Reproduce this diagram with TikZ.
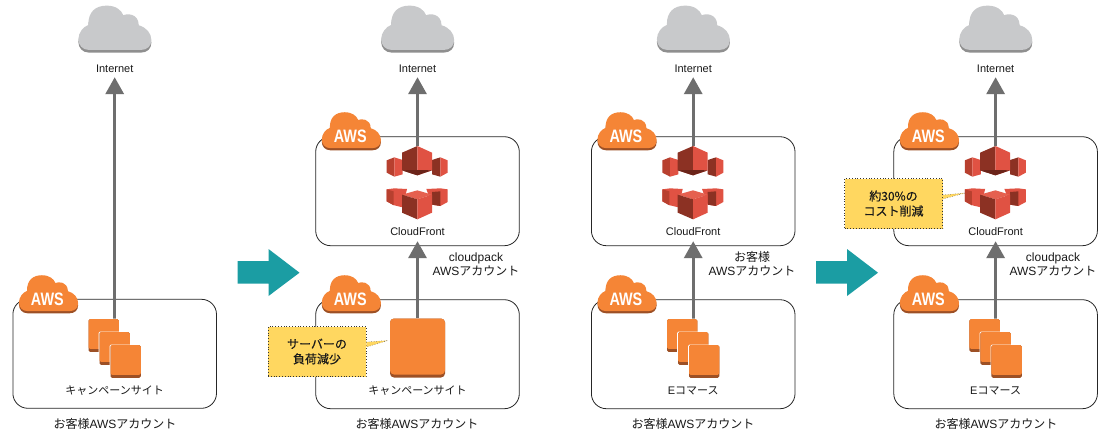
\documentclass[tikz,border=0pt]{standalone}
\usepackage{fontspec}
\setmainfont{Liberation Sans}
\newfontfamily\jp{Noto Sans CJK JP}
\newfontfamily\jpnote[FakeBold=0.4]{Noto Sans CJK JP}
\usetikzlibrary{arrows.meta}
\definecolor{awsorange}{HTML}{F58536}
\definecolor{awsdark}{HTML}{9D5025}
\definecolor{cloudgray}{HTML}{C8C9CB}
\definecolor{clouddark}{HTML}{8F8F8F}
\definecolor{cfred}{HTML}{E05243}
\definecolor{cfdark}{HTML}{8C3123}
\definecolor{cfmid}{HTML}{B8402F}
\definecolor{cflight}{HTML}{E5604F}
\definecolor{cfunder}{HTML}{6B2419}
\definecolor{connector}{HTML}{6E6E6E}
\definecolor{note}{HTML}{FFD760}
\definecolor{teal}{HTML}{1B9DA3}
\newcommand{\cloudoutline}{(265,150) .. controls (245,150) and (233,135) .. (233,118) .. controls (233,98) and (248,80) .. (263,75) .. controls (262,35) and (285,17) .. (318,17) .. controls (345,17) and (362,30) .. (368,46) .. controls (378,40) and (414,40) .. (414,76) .. controls (437,82) and (452,100) .. (452,120) .. controls (452,138) and (440,150) .. (420,150) -- cycle}
\tikzset{
  acct/.style={draw=black!85,line width=0.8pt,rounded corners=15pt,minimum width=203.6pt,minimum height=109pt,inner sep=0pt},
  txt/.style={inner sep=0pt,text=black!90,font=\fontsize{11}{14}\selectfont,align=center},
  bigtxt/.style={txt,font=\fontsize{12}{14}\selectfont},
  lbl/.style={txt,minimum height=16pt},
  cflbl/.style={txt,minimum height=18pt},
  ghost/.style={inner sep=0pt,minimum width=53pt},
  link/.style={draw=connector,line width=3.3pt,-{Triangle[width=18pt,length=17pt]}},
  notebox/.style={fill=note,draw=black!80,dotted,line width=0.8pt,minimum width=98pt,minimum height=50pt,inner sep=0pt,align=center,text=black!90,font=\fontsize{12}{15}\selectfont\jpnote},
  notetail/.style={fill=note,draw=black!70,dotted,line width=0.5pt},
  go/.style={fill=teal,draw=none},
  inetcloud/.pic={
    \begin{scope}[scale=0.3333,shift={(-342,-88)}]
      \fill[clouddark] [yshift=-8] \cloudoutline;
      \fill[cloudgray] \cloudoutline;
    \end{scope}},
  awscloud/.pic={
    \begin{scope}[scale=0.27,shift={(-342,-88)}]
      \fill[awsdark] [yshift=-8] \cloudoutline;
      \fill[awsorange] \cloudoutline;
    \end{scope}
    \node[inner sep=0pt,text=white,font=\fontsize{18}{18}\selectfont\bfseries,xscale=0.8] (-t) at (-1,5) {AWS};},
  tile/.pic={
    \fill[white,rounded corners=1.5pt] (-16,-17) rectangle (16,17);
    \fill[awsdark,rounded corners=1.5pt] (-15.2,-16.3) rectangle (15.2,16.3);
    \fill[awsorange,rounded corners=1.5pt] (-15.2,-16.3) rectangle (15.2,13.3);},
  stackicon/.pic={
    \pic at (-11,-13.5) {tile};
    \pic at (0,-0.5) {tile};
    \pic at (11,12.5) {tile};},
  bigtile/.pic={
    \fill[awsdark,rounded corners=4pt] (-27.5,-29.5) rectangle (27.5,29.5);
    \fill[awsorange,rounded corners=4pt] (-27.5,-29.5) rectangle (27.5,26.5);},
  cficon/.pic={
    \begin{scope}[scale=0.3333,shift={(-106.5,-123)}]
      % upper group
      \fill[cfmid] (14,55)--(37,46)--(37,104)--(14,92)--cycle;
      \fill[cfred] (37,46)--(62,54)--(62,97)--(37,104)--cycle;
      \fill[cfdark] (150,54)--(175,46)--(175,104)--(150,97)--cycle;
      \fill[cfred] (175,46)--(197,55)--(197,92)--(175,104)--cycle;
      \fill[cfdark] (106,12)--(60,32)--(60,85)--(106,100)--cycle;
      \fill[cfred] (106,12)--(150,32)--(150,85)--(106,100)--cycle;
      \fill[cfunder] (60,85)--(106,84)--(150,85)--(106,100)--cycle;
      % lower group
      \fill[cfred] (14,142)--(37,139)--(75,141)--(62,196)--(37,190)--(14,178)--cycle;
      \fill[cfmid] (14,142)--(35,148)--(35,190)--(14,178)--cycle;
      \fill[cfred] (133,141)--(175,139)--(197,142)--(197,180)--(175,192)--(150,188)--cycle;
      \fill[cfdark] (150,150)--(175,148)--(175,192)--(150,188)--cycle;
      \fill[cflight] (60,158)--(106,145)--(150,158)--(106,172)--cycle;
      \fill[cfdark] (60,158)--(106,172)--(106,232)--(60,212)--cycle;
      \fill[cfred] (150,158)--(106,172)--(106,232)--(150,212)--cycle;
    \end{scope}}
}
\begin{document}
\begin{tikzpicture}[x=1pt,y=-1pt]
\useasboundingbox (0,0) rectangle (1098,434);
\fill[white] (0,0) rectangle (1098,434);

% account boxes
\node[acct] (boxA)  at (114.7,353.8) {};
\node[acct] (boxB)  at (417.5,191.2) {};
\node[acct] (boxBl) at (417.5,354.2) {};
\node[acct] (boxC)  at (693.2,191.2) {};
\node[acct] (boxCl) at (693.2,354.2) {};
\node[acct] (boxD)  at (995.6,191.2) {};
\node[acct] (boxDl) at (995.6,354.2) {};

% internet labels
\node[lbl] (inetA) at (114.7,69) {Internet};
\node[lbl] (inetB) at (417.5,69) {Internet};
\node[lbl] (inetC) at (693.2,69) {Internet};
\node[lbl] (inetD) at (995.6,69) {Internet};

% cloudfront labels
\node[cflbl] (cfnameB) at (417.5,232) {CloudFront};
\node[cflbl] (cfnameC) at (693.2,232) {CloudFront};
\node[cflbl] (cfnameD) at (995.6,232) {CloudFront};

% icon holders
\node[ghost,minimum height=59pt] (siteA) at (114.7,349) {};
\node[ghost,minimum height=59pt] (siteB) at (417.5,348) {};
\node[ghost,minimum height=59pt] (siteC) at (693.2,349) {};
\node[ghost,minimum height=59pt] (siteD) at (995.6,349) {};
\node[ghost,minimum height=74pt] (cfB) at (417.5,183) {};
\node[ghost,minimum height=74pt] (cfC) at (693.2,183) {};
\node[ghost,minimum height=74pt] (cfD) at (995.6,183) {};

% connectors
\draw[link] (siteA.north) -- (inetA.south);
\draw[link] (cfB.north) -- (inetB.south);
\draw[link] (siteB.north) -- (cfnameB.south);
\draw[link] (cfC.north) -- (inetC.south);
\draw[link] (siteC.north) -- (cfnameC.south);
\draw[link] (cfD.north) -- (inetD.south);
\draw[link] (siteD.north) -- (cfnameD.south);

% internet clouds
\pic at (114.7,29.3) {inetcloud};
\pic at (417.5,29.3) {inetcloud};
\pic at (693.2,29.3) {inetcloud};
\pic at (995.6,29.3) {inetcloud};

% aws badges
\pic (awsA)  at (48.4,294.4)  {awscloud};
\pic (awsB)  at (351.2,131.4) {awscloud};
\pic (awsBl) at (351.2,294.4) {awscloud};
\pic (awsC)  at (626.9,131.4) {awscloud};
\pic (awsCl) at (626.9,294.4) {awscloud};
\pic (awsD)  at (929.3,131.4) {awscloud};
\pic (awsDl) at (929.3,294.4) {awscloud};

% server icons
\pic at (114.7,349) {stackicon};
\pic at (417.5,348) {bigtile};
\pic at (693.2,349) {stackicon};
\pic at (995.6,349) {stackicon};

% cloudfront icons
\pic at (417.5,183) {cficon};
\pic at (693.2,183) {cficon};
\pic at (995.6,183) {cficon};

% site names
\node[txt] (nameA) at (114.7,391) {\jp キャンペーンサイト};
\node[txt] (nameB) at (417.5,391) {\jp キャンペーンサイト};
\node[txt] (nameC) at (693.2,391) {E{\jp コマース}};
\node[txt] (nameD) at (995.6,391) {E{\jp コマース}};

% account names
\node[bigtxt] (acctA) at (115,424) {{\jp お客様}AWS{\jp アカウント}};
\node[bigtxt] (acctB) at (417,424) {{\jp お客様}AWS{\jp アカウント}};
\node[bigtxt] (acctC) at (693,424) {{\jp お客様}AWS{\jp アカウント}};
\node[bigtxt] (acctD) at (996,424) {{\jp お客様}AWS{\jp アカウント}};
\node[bigtxt] (ownB) at (476,264) {cloudpack\\AWS{\jp アカウント}};
\node[bigtxt] (ownC) at (752,264) {{\jp お客様}\\AWS{\jp アカウント}};
\node[bigtxt] (ownD) at (1053,264) {cloudpack\\AWS{\jp アカウント}};

% transition arrows
\fill[go] (237.5,261)--(268.5,261)--(268.5,249)--(299.5,272.7)--(268.5,296)--(268.5,283.5)--(237.5,283.5)--cycle;
\fill[go] (816,261)--(847,261)--(847,249)--(878,272.7)--(847,296)--(847,283.5)--(816,283.5)--cycle;

% callouts
\coordinate (tipB) at (388,340.5);
\coordinate (tipD) at (965,193);
\node[notebox] (noteB) at (317,351.5) {サーバーの\\負荷減少};
\node[notebox] (noteD) at (893.5,203.5) {約30\%の\\コスト削減};
\path[notetail] ([yshift=9.5pt]noteB.east) -- (tipB) -- ([yshift=4.5pt]noteB.east);
\path[notetail] ([yshift=8.5pt]noteD.east) -- (tipD) -- ([yshift=4.5pt]noteD.east);
\end{tikzpicture}
\end{document}
